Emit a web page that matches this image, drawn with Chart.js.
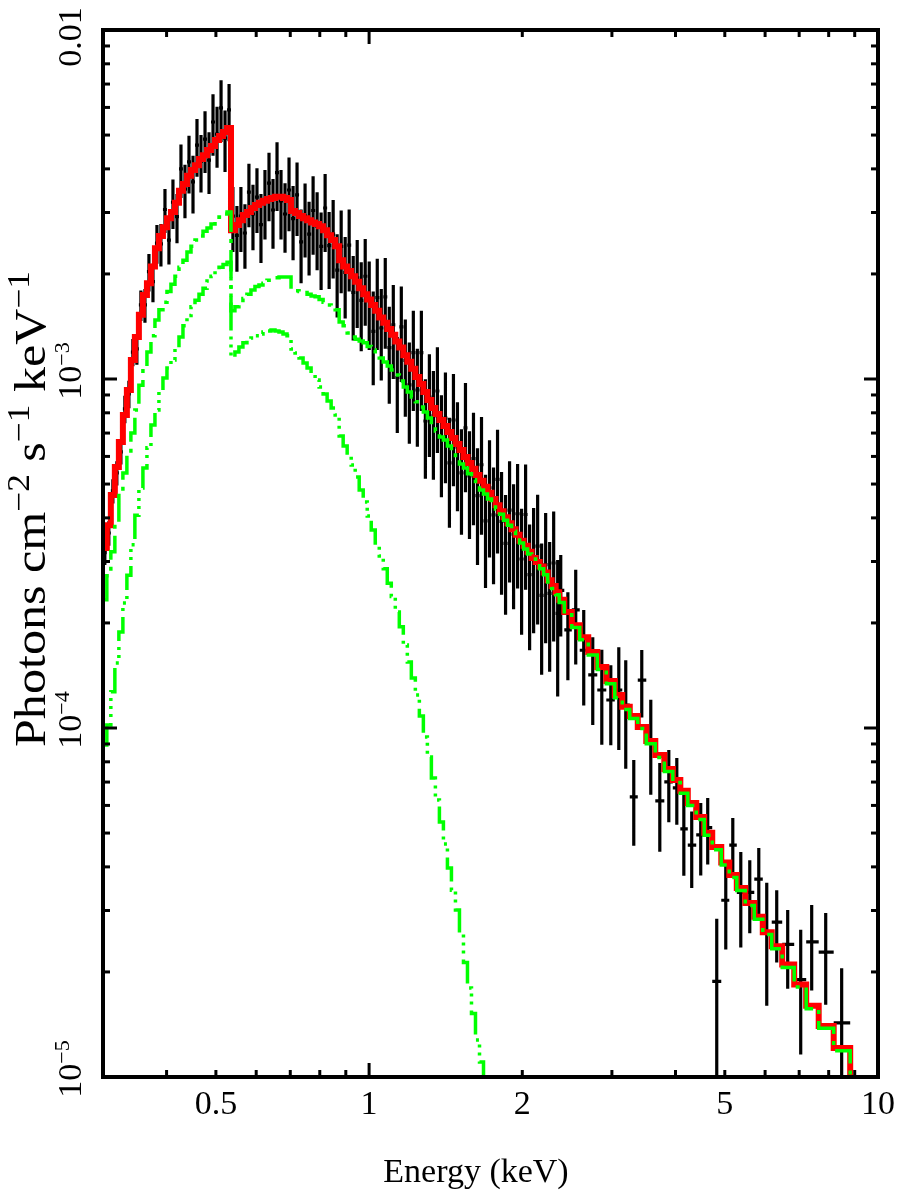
<!DOCTYPE html>
<html><head><meta charset="utf-8">
<script src="https://cdn.jsdelivr.net/npm/chart.js@4/dist/chart.umd.min.js"></script>
<style>html,body{margin:0;padding:0;background:#fff}#wrap{width:901px;height:1194px}</style>
</head><body><div id="wrap"><canvas id="c" width="901" height="1194"></canvas></div>
<script>
// ---- bin centres (keV) ----
const binEnergy = [
0.3025,0.3080,0.3137,0.3194,0.3253,0.3312,0.3373,0.3434,0.3497,0.3561,
0.3627,0.3693,0.3761,0.3829,0.3899,0.3971,0.4043,0.4117,0.4193,0.4269,
0.4347,0.4427,0.4508,0.4590,0.4674,0.4760,0.4847,0.4935,0.5026,0.5118,
0.5211,0.5307,
0.5400,0.5499,0.5599,0.5702,0.5806,0.5913,0.6021,0.6131,0.6243,0.6358,
0.6474,0.6593,0.6713,0.6836,0.6961,0.7089,0.7218,0.7351,0.7485,0.7622,
0.7762,0.7904,0.8048,0.8196,0.8346,0.8499,0.8654,0.8813,0.8974,0.9138,
0.9306,0.9476,0.9650,0.9826,1.0006,1.0189,1.0376,1.0566,1.0759,1.0956,
1.1157,1.1361,1.1569,1.1781,1.1997,1.2216,1.2440,1.2668,1.2900,1.3136,
1.3376,1.3621,1.3871,1.4125,1.4383,1.4647,1.4915,1.5188,1.5466,1.5749,
1.6037,1.6331,1.6630,1.6934,1.7244,1.7560,1.7881,1.8209,1.8542,1.8881,
1.9227,1.9579,1.9937,2.0302,2.0674,2.1052,2.1438,2.1830,2.2230,2.2637,
2.3051,2.3473,
2.380,2.458,2.547,2.641,2.751,2.866,2.985,3.095,3.194,3.312,
3.434,3.577,3.726,3.881,4.024,4.154,4.305,4.484,4.628,4.821,
5.022,5.184,5.375,5.598,5.831,6.045,6.324,6.646,7.049,7.408,
7.893,8.484,9.165];

// ---- total model (red) ----
const modelTotal = [
3.28e-4,3.81e-4,4.65e-4,5.60e-4,6.60e-4,7.89e-4,9.30e-4,1.133e-3,1.32e-3,1.527e-3,
1.74e-3,1.88e-3,2.10e-3,2.37e-3,2.57e-3,2.72e-3,2.89e-3,3.01e-3,3.20e-3,3.46e-3,
3.62e-3,3.82e-3,3.97e-3,4.10e-3,4.27e-3,4.38e-3,4.53e-3,4.65e-3,4.84e-3,4.97e-3,
5.10e-3,5.24e-3,
2.67e-3,2.76e-3,2.85e-3,2.95e-3,3.01e-3,3.09e-3,3.15e-3,3.20e-3,3.24e-3,3.28e-3,
3.30e-3,3.33e-3,3.33e-3,3.30e-3,3.26e-3,3.03e-3,2.99e-3,2.93e-3,2.89e-3,2.85e-3,
2.81e-3,2.78e-3,2.74e-3,2.67e-3,2.58e-3,2.50e-3,2.40e-3,2.19e-3,2.10e-3,2.04e-3,
1.97e-3,1.90e-3,1.82e-3,1.75e-3,1.69e-3,1.63e-3,1.57e-3,1.50e-3,1.45e-3,1.39e-3,
1.34e-3,1.28e-3,1.23e-3,1.17e-3,1.12e-3,1.07e-3,1.013e-3,9.67e-4,9.18e-4,8.71e-4,
8.26e-4,7.94e-4,7.63e-4,7.33e-4,7.05e-4,6.78e-4,6.51e-4,6.26e-4,5.98e-4,5.75e-4,
5.53e-4,5.31e-4,5.11e-4,4.91e-4,4.72e-4,4.53e-4,4.35e-4,4.18e-4,4.02e-4,3.86e-4,
3.71e-4,3.58e-4,3.44e-4,3.33e-4,3.20e-4,3.07e-4,2.99e-4,2.90e-4,2.79e-4,2.65e-4,
2.55e-4,2.45e-4,
2.33e-4,2.15e-4,1.97e-4,1.82e-4,1.65e-4,1.495e-4,1.363e-4,1.244e-4,1.15e-4,1.083e-4,
1.007e-4,9.18e-5,8.37e-5,7.63e-5,7.10e-5,6.61e-5,6.10e-5,5.56e-5,5.01e-5,4.56e-5,
4.12e-5,3.79e-5,3.48e-5,3.15e-5,2.88e-5,2.60e-5,2.37e-5,2.10e-5,1.84e-5,1.60e-5,
1.40e-5,1.21e-5,9.49e-6];

// ---- power-law component (green, upper) ----
const compPowerLaw = [
2.33e-4,2.73e-4,3.20e-4,3.86e-4,4.72e-4,5.38e-4,6.14e-4,7.00e-4,8.15e-4,9.60e-4,
1.075e-3,1.195e-3,1.33e-3,1.476e-3,1.58e-3,1.66e-3,1.78e-3,1.87e-3,1.97e-3,2.09e-3,
2.19e-3,2.31e-3,2.40e-3,2.50e-3,2.57e-3,2.65e-3,2.71e-3,2.78e-3,2.85e-3,2.91e-3,
2.97e-3,3.01e-3,
1.57e-3,1.61e-3,1.65e-3,1.70e-3,1.75e-3,1.80e-3,1.84e-3,1.86e-3,1.88e-3,1.92e-3,
1.93e-3,1.95e-3,1.96e-3,1.96e-3,1.96e-3,1.80e-3,1.79e-3,1.78e-3,1.77e-3,1.75e-3,
1.73e-3,1.72e-3,1.69e-3,1.66e-3,1.63e-3,1.61e-3,1.58e-3,1.457e-3,1.42e-3,1.355e-3,
1.32e-3,1.30e-3,1.285e-3,1.27e-3,1.24e-3,1.21e-3,1.18e-3,1.148e-3,1.118e-3,1.09e-3,
1.061e-3,1.027e-3,9.87e-4,9.49e-4,9.18e-4,8.88e-4,8.60e-4,8.32e-4,8.04e-4,7.73e-4,
7.38e-4,7.09e-4,6.82e-4,6.69e-4,6.43e-4,6.18e-4,5.94e-4,5.71e-4,5.56e-4,5.35e-4,
5.14e-4,4.97e-4,4.81e-4,4.68e-4,4.53e-4,4.38e-4,4.24e-4,4.10e-4,3.94e-4,3.81e-4,
3.66e-4,3.53e-4,3.39e-4,3.26e-4,3.15e-4,3.05e-4,2.95e-4,2.86e-4,2.75e-4,2.62e-4,
2.51e-4,2.41e-4,
2.29e-4,2.11e-4,1.94e-4,1.79e-4,1.62e-4,1.47e-4,1.34e-4,1.22e-4,1.13e-4,1.065e-4,
9.97e-5,9.02e-5,8.23e-5,7.50e-5,6.98e-5,6.50e-5,6.00e-5,5.47e-5,4.93e-5,4.48e-5,
4.05e-5,3.73e-5,3.42e-5,3.10e-5,2.83e-5,2.56e-5,2.33e-5,2.06e-5,1.81e-5,1.57e-5,
1.38e-5,1.19e-5,9.35e-6];

// ---- soft thermal component (green, lower), first 96 bins ----
const compSoft = [
8.94e-5,1.02e-4,1.27e-4,1.536e-4,1.885e-4,2.28e-4,2.74e-4,3.35e-4,4.07e-4,4.87e-4,
5.56e-4,6.35e-4,7.38e-4,8.15e-4,9.18e-4,1.007e-3,1.075e-3,1.133e-3,1.227e-3,1.32e-3,
1.42e-3,1.52e-3,1.61e-3,1.68e-3,1.75e-3,1.82e-3,1.91e-3,1.97e-3,2.04e-3,2.09e-3,
2.13e-3,2.16e-3,
1.155e-3,1.195e-3,1.236e-3,1.27e-3,1.294e-3,1.31e-3,1.33e-3,1.346e-3,1.364e-3,1.373e-3,
1.382e-3,1.373e-3,1.364e-3,1.346e-3,1.33e-3,1.219e-3,1.187e-3,1.148e-3,1.111e-3,1.075e-3,
1.033e-3,9.93e-4,9.49e-4,9.06e-4,8.65e-4,8.26e-4,7.88e-4,6.87e-4,6.43e-4,6.05e-4,
5.67e-4,5.24e-4,4.81e-4,4.44e-4,4.05e-4,3.69e-4,3.39e-4,3.11e-4,2.86e-4,2.60e-4,
2.38e-4,2.15e-4,1.95e-4,1.73e-4,1.545e-4,1.39e-4,1.244e-4,1.083e-4,9.42e-5,8.26e-5,
7.19e-5,6.22e-5,5.38e-5,4.65e-5,3.97e-5,3.43e-5,3.01e-5,2.59e-5,2.13e-5,1.80e-5,
1.52e-5,1.276e-5,1.104e-5,9.5e-6];

// ---- observed spectrum (black), first 146 bins ----
const dataFlux = [
3.18e-4,3.62e-4,4.78e-4,5.38e-4,6.18e-4,8.21e-4,9.06e-4,1.194e-3,1.22e-3,1.63e-3,
1.63e-3,2.03e-3,1.90e-3,2.45e-3,2.44e-3,3.06e-3,2.50e-3,3.21e-3,2.92e-3,4.00e-3,
3.50e-3,4.19e-3,3.67e-3,4.68e-3,4.21e-3,4.87e-3,4.24e-3,5.45e-3,5.03e-3,5.98e-3,
4.90e-3,5.90e-3,
2.93e-3,2.58e-3,2.93e-3,2.62e-3,3.43e-3,2.97e-3,3.32e-3,2.77e-3,3.24e-3,3.64e-3,
3.05e-3,3.90e-3,3.24e-3,2.97e-3,3.48e-3,2.88e-3,3.37e-3,2.47e-3,2.93e-3,2.60e-3,
3.04e-3,2.74e-3,2.40e-3,3.09e-3,2.41e-3,2.60e-3,2.05e-3,2.40e-3,2.02e-3,2.42e-3,
1.77e-3,1.95e-3,1.68e-3,1.97e-3,1.69e-3,1.37e-3,1.71e-3,1.40e-3,1.72e-3,1.23e-3,
1.43e-3,1.01e-3,1.41e-3,1.13e-3,9.62e-4,1.19e-3,9.30e-4,1.19e-3,7.58e-4,8.88e-4,
7.84e-4,9.24e-4,6.78e-4,7.73e-4,5.75e-4,7.63e-4,6.38e-4,5.38e-4,7.24e-4,5.28e-4,
5.91e-4,4.63e-4,5.68e-4,3.92e-4,4.88e-4,4.08e-4,5.16e-4,3.91e-4,3.38e-4,4.21e-4,
3.59e-4,4.11e-4,3.05e-4,4.09e-4,2.75e-4,3.07e-4,3.32e-4,2.40e-4,2.94e-4,2.43e-4,
2.97e-4,2.13e-4,
2.48e-4,1.91e-4,2.18e-4,1.67e-4,1.42e-4,1.285e-4,1.203e-4,1.285e-4,1.164e-4,6.35e-5,
1.372e-4,9.24e-5,6.18e-5,7.01e-5,6.74e-5,5.14e-5,4.62e-5,4.94e-5,5.18e-5,1.88e-5,
3.21e-5,4.62e-5,3.38e-5,3.38e-5,3.69e-5,2.60e-5,2.78e-5,2.40e-5,1.90e-5,2.44e-5,
2.28e-5,1.43e-5];

const dataErr = [
2.5e-5,2.9e-5,3.8e-5,4.3e-5,4.9e-5,7.4e-5,8.2e-5,1.07e-4,1.22e-4,1.63e-4,
1.8e-4,2.5e-4,2.4e-4,3.1e-4,3.4e-4,4.4e-4,3.7e-4,5.2e-4,4.7e-4,7.0e-4,
6.1e-4,7.9e-4,6.9e-4,8.8e-4,7.9e-4,9.8e-4,8.5e-4,1.09e-3,1.0e-3,1.2e-3,
9.8e-4,1.1e-3,
6.2e-4,5.5e-4,6.2e-4,5.5e-4,7.1e-4,6.3e-4,7.0e-4,6.2e-4,7.3e-4,8.1e-4,
6.9e-4,8.7e-4,7.3e-4,6.7e-4,8.3e-4,6.9e-4,8.0e-4,5.9e-4,7.0e-4,6.2e-4,
7.7e-4,6.9e-4,6.0e-4,7.8e-4,6.0e-4,6.6e-4,5.5e-4,6.4e-4,5.3e-4,6.4e-4,
4.8e-4,5.5e-4,4.8e-4,5.5e-4,4.8e-4,4.1e-4,5.0e-4,4.1e-4,5.0e-4,3.8e-4,
4.3e-4,3.1e-4,4.3e-4,3.5e-4,3.1e-4,3.8e-4,2.9e-4,3.8e-4,2.4e-4,2.9e-4,
2.7e-4,3.1e-4,2.2e-4,2.7e-4,2.0e-4,2.7e-4,2.2e-4,1.8e-4,2.5e-4,1.8e-4,
2.1e-4,1.7e-4,2.1e-4,1.4e-4,1.8e-4,1.5e-4,2.0e-4,1.5e-4,1.27e-4,1.6e-4,
1.4e-4,1.6e-4,1.2e-4,1.6e-4,1.08e-4,1.2e-4,1.34e-4,9.8e-5,1.19e-4,9.8e-5,
1.2e-4,9.0e-5,
6.5e-5,5.4e-5,6.6e-5,5.1e-5,4.0e-5,3.9e-5,3.1e-5,4.2e-5,4.0e-5,1.75e-5,
3.0e-5,2.8e-5,1.76e-5,1.64e-5,1.46e-5,1.37e-5,1.14e-5,1.16e-5,1.12e-5,9.6e-6,
8.9e-6,9.0e-6,1.03e-5,8.0e-6,8.4e-6,1.0e-5,6.5e-6,6.1e-6,7.4e-6,6.7e-6,
6.7e-6,6.2e-6];

// ---- axes ----
const xRange = [0.3, 10];
const yRange = [1e-5, 1e-2];
const xMinorTicks = [0.4,0.5,0.6,0.7,0.8,0.9,2,3,4,5,6,7,8,9];
const xMajorTicks = [1];
const xTickValues = [0.5,1,2,5,10];
const xTickLabels = ['0.5','1','2','5','10'];
const yMajorTicks = [1e-5,1e-4,1e-3,1e-2];
const yMinorTicks = [2e-5,3e-5,4e-5,5e-5,6e-5,7e-5,8e-5,9e-5,
  2e-4,3e-4,4e-4,5e-4,6e-4,7e-4,8e-4,9e-4,
  2e-3,3e-3,4e-3,5e-3,6e-3,7e-3,8e-3,9e-3];
const yTickValues = [1e-2,1e-3,1e-4,1e-5];
const yTickLabels = ['0.01','10^−3','10^−4','10^−5'];
const xTitle = 'Energy (keV)';
const yTitle = 'Photons cm^−2| s^−1| keV^−1';

// ---- build datasets ----
const pts = (ys) => ys.map((v, i) => ({x: binEnergy[i], y: v}));
const errPts = [];
for (let i = 0; i < dataFlux.length; i++) {
  const e = binEnergy[i];
  const prev = i > 0 ? binEnergy[i-1] : e * e / binEnergy[i+1];
  const next = binEnergy[i+1];
  const lo = Math.sqrt(prev * e), hi = Math.sqrt(e * next);
  const y = dataFlux[i], yl = Math.max(y - dataErr[i], 1e-7), yh = y + dataErr[i];
  errPts.push({x: lo, y: y}, {x: hi, y: y}, {x: e, y: null},
              {x: e, y: yl}, {x: e, y: yh}, {x: e, y: null});
}

const FONT = '"Liberation Serif","Times New Roman",serif';
function parseRich(s) {
  const out = [];
  s.split('|').forEach(seg => {
    const k = seg.indexOf('^');
    if (k < 0) out.push([seg, false]);
    else { if (k > 0) out.push([seg.slice(0, k), false]); out.push([seg.slice(k + 1), true]); }
  });
  return out;
}
function drawRich(ctx, s, size, align, supScale, targetLen) {
  const parts = parseRich(s);
  const supSize = Math.round(size * (supScale || 0.64));
  let w = 0; const ws = [];
  for (const [t, sup] of parts) {
    ctx.font = (sup ? supSize : size) + 'px ' + FONT;
    const m = ctx.measureText(t).width; ws.push(m); w += m;
  }
  if (targetLen) ctx.scale(targetLen / w, 1);
  let x = align === 'center' ? -w / 2 : 0;
  ctx.textAlign = 'left'; ctx.textBaseline = 'alphabetic';
  parts.forEach(([t, sup], i) => {
    ctx.font = (sup ? supSize : size) + 'px ' + FONT;
    ctx.fillText(t, x, sup ? -size * 0.36 : 0);
    x += ws[i];
  });
}

const frameAndLabels = {
  id: 'frameAndLabels',
  afterDraw(chart) {
    const {ctx, chartArea: a, scales: {x, y}} = chart;
    ctx.save();
    ctx.strokeStyle = '#000'; ctx.fillStyle = '#000'; ctx.lineCap = 'butt';
    const seg = (x1, y1, x2, y2) => { ctx.beginPath(); ctx.moveTo(x1, y1); ctx.lineTo(x2, y2); ctx.stroke(); };
    ctx.lineWidth = 3;
    const xt = (v, len) => { const p = x.getPixelForValue(v); seg(p, a.bottom, p, a.bottom - len); seg(p, a.top, p, a.top + len); };
    const yt = (v, len) => { const p = y.getPixelForValue(v); seg(a.left, p, a.left + len, p); seg(a.right, p, a.right - len, p); };
    xMinorTicks.forEach(v => xt(v, 7)); xMajorTicks.forEach(v => xt(v, 14));
    yMinorTicks.forEach(v => yt(v, 7)); yMajorTicks.forEach(v => yt(v, 14));
    ctx.lineWidth = 4;
    ctx.strokeRect(a.left, a.top, a.right - a.left, a.bottom - a.top);

    xTickValues.forEach((v, i) => {
      ctx.save(); ctx.translate(x.getPixelForValue(v), a.bottom + 37);
      drawRich(ctx, xTickLabels[i], 34, 'center'); ctx.restore();
    });
    yTickValues.forEach((v, i) => {
      const p = y.getPixelForValue(v) + (yTickLabels[i].indexOf('^') < 0 ? 7 : -8);
      ctx.save(); ctx.translate(a.left - 22, p); ctx.rotate(-Math.PI / 2);
      drawRich(ctx, yTickLabels[i], 34, 'center'); ctx.restore();
    });
    ctx.save(); ctx.translate(476, a.bottom + 105); drawRich(ctx, xTitle, 34, 'center'); ctx.restore();
    ctx.save(); ctx.translate(45, 509); ctx.rotate(-Math.PI / 2); drawRich(ctx, yTitle, 44, 'center', 0.7, 476); ctx.restore();
    ctx.restore();
  }
};

new Chart(document.getElementById('c'), {
  type: 'scatter',
  data: {
    datasets: [
      { label: 'power law', data: pts(compPowerLaw), showLine: true, stepped: 'middle',
        borderColor: '#00ff00', borderWidth: 3.5, borderDash: [28, 7, 4, 7], pointRadius: 0, order: 0, clip: 0 },
      { label: 'soft', data: pts(compSoft), showLine: true, stepped: 'middle',
        borderColor: '#00ff00', borderWidth: 3.5, borderDash: [28, 6, 3, 5, 3, 5, 3, 6], pointRadius: 0, order: 1, clip: 0 },
      { label: 'model', data: pts(modelTotal), showLine: true, stepped: 'middle',
        borderColor: '#ff0000', borderWidth: 6, pointRadius: 0, order: 2, clip: 0 },
      { label: 'data', data: errPts, showLine: true, spanGaps: false,
        borderColor: '#000', borderWidth: 3.2, borderCapStyle: 'butt', pointRadius: 0, order: 3, clip: 0 }
    ]
  },
  options: {
    responsive: false, animation: false, devicePixelRatio: 1,
    layout: { padding: { left: 103, right: 23, top: 30, bottom: 117 } },
    scales: {
      x: { type: 'logarithmic', min: xRange[0], max: xRange[1], display: false },
      y: { type: 'logarithmic', min: yRange[0], max: yRange[1], display: false }
    },
    plugins: { legend: { display: false }, tooltip: { enabled: false } }
  },
  plugins: [frameAndLabels]
});
</script>
</body></html>
